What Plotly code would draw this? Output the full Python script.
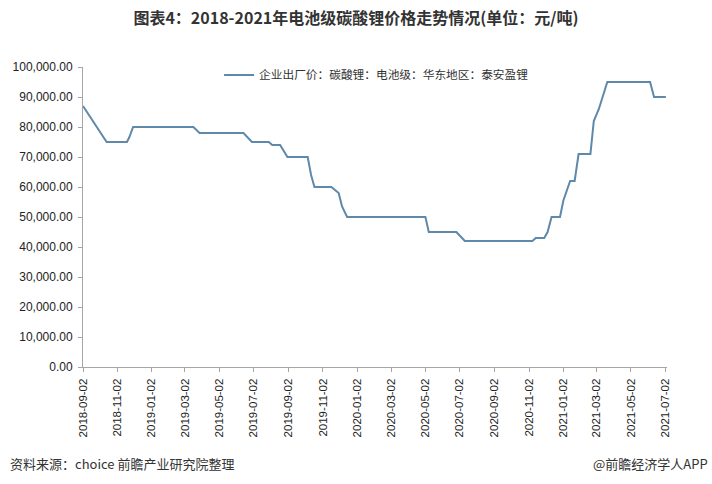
import plotly.graph_objects as go

title_text = "图表4：2018-2021年电池级碳酸锂价格走势情况(单位：元/吨)"
series_name = "企业出厂价：碳酸锂：电池级：华东地区：泰安盈锂"
source_text = "资料来源：choice 前瞻产业研究院整理"
brand_text = "@前瞻经济学人APP"

dates = [
    "2018-09-02", "2018-10-14", "2018-11-19", "2018-11-23", "2018-11-30",
    "2019-03-17", "2019-03-28", "2019-06-14", "2019-06-29", "2019-07-29",
    "2019-08-04", "2019-08-18", "2019-08-31", "2019-10-06", "2019-10-12",
    "2019-10-18", "2019-11-17", "2019-11-30", "2019-12-06", "2019-12-15",
    "2020-05-02", "2020-05-08", "2020-06-26", "2020-07-11", "2020-11-08",
    "2020-11-14", "2020-11-29", "2020-12-05", "2020-12-12", "2020-12-27",
    "2021-01-02", "2021-01-14", "2021-01-22", "2021-01-29", "2021-02-19",
    "2021-02-25", "2021-03-06", "2021-03-21", "2021-06-05", "2021-06-12",
    "2021-07-03",
]
prices = [
    87000, 75000, 75000, 76500, 80000,
    80000, 78000, 78000, 75000, 75000,
    74000, 74000, 70000, 70000, 64000,
    60000, 60000, 58000, 53500, 50000,
    50000, 45000, 45000, 42000, 42000,
    43000, 43000, 45000, 50000, 50000,
    55500, 62000, 62000, 71000, 71000,
    82000, 86000, 95000, 95000, 90000,
    90000,
]

tick_dates = [
    "2018-09-02", "2018-11-02", "2019-01-02", "2019-03-02", "2019-05-02",
    "2019-07-02", "2019-09-02", "2019-11-02", "2020-01-02", "2020-03-02",
    "2020-05-02", "2020-07-02", "2020-09-02", "2020-11-02", "2021-01-02",
    "2021-03-02", "2021-05-02", "2021-07-02",
]
y_ticks = [0, 10000, 20000, 30000, 40000, 50000, 60000, 70000, 80000, 90000, 100000]

fig = go.Figure()
fig.add_trace(go.Scatter(
    x=dates, y=prices, mode="lines", name=series_name,
    line=dict(color="#5f89aa", width=2),
    showlegend=True,
))

fig.update_layout(
    width=712, height=484,
    margin=dict(l=83, r=45, t=67, b=117),
    paper_bgcolor="white", plot_bgcolor="white",
    font=dict(family="Noto Sans CJK SC, Liberation Sans, sans-serif", color="#333333"),
    title=dict(
        text="<b>" + title_text + "</b>",
        x=0.5, xanchor="center", y=0.963, yanchor="middle",
        font=dict(size=16, color="#333333", family="Noto Sans CJK SC"),
    ),
    showlegend=True,
    legend=dict(
        x=0.233, y=1.022, xanchor="left", yanchor="top",
        orientation="h", bgcolor="rgba(0,0,0,0)",
        font=dict(size=11.7, color="#333333", family="Noto Sans CJK SC"),
        itemwidth=30,
    ),
    xaxis=dict(
        type="date",
        range=["2018-09-02", "2021-07-05"],
        tickmode="array", tickvals=tick_dates, ticktext=tick_dates,
        tickangle=-90,
        tickfont=dict(size=11.5, family="Liberation Sans", color="#222222"),
        showline=True, linecolor="#a6a6a6", linewidth=1,
        ticks="outside", ticklen=4, tickcolor="#a6a6a6",
        ticklabelstandoff=2,
        showgrid=False, zeroline=False,
    ),
    yaxis=dict(
        range=[0, 100000],
        tickmode="array", tickvals=y_ticks,
        tickformat=",.2f",
        tickfont=dict(size=12, family="Liberation Sans", color="#222222"),
        showline=True, linecolor="#a6a6a6", linewidth=1,
        ticks="outside", ticklen=4, tickcolor="#a6a6a6",
        ticklabelstandoff=3,
        showgrid=False, zeroline=False,
    ),
)

fig.add_annotation(
    text=source_text, xref="paper", yref="paper",
    x=-83 / 584 + 8 / 584, y=-(463 - 367) / 300, xanchor="left", yanchor="middle",
    showarrow=False, font=dict(size=13, color="#333333", family="Noto Sans CJK SC"),
)
fig.add_annotation(
    text=brand_text, xref="paper", yref="paper",
    x=(710 - 83) / 584, y=-(463 - 367) / 300, xanchor="right", yanchor="middle",
    showarrow=False, font=dict(size=13, color="#333333", family="Noto Sans CJK SC"),
)

fig.write_html(
    "out.html",
    config={"displayModeBar": False},
    post_script="document.body.style.margin='0';",
)
